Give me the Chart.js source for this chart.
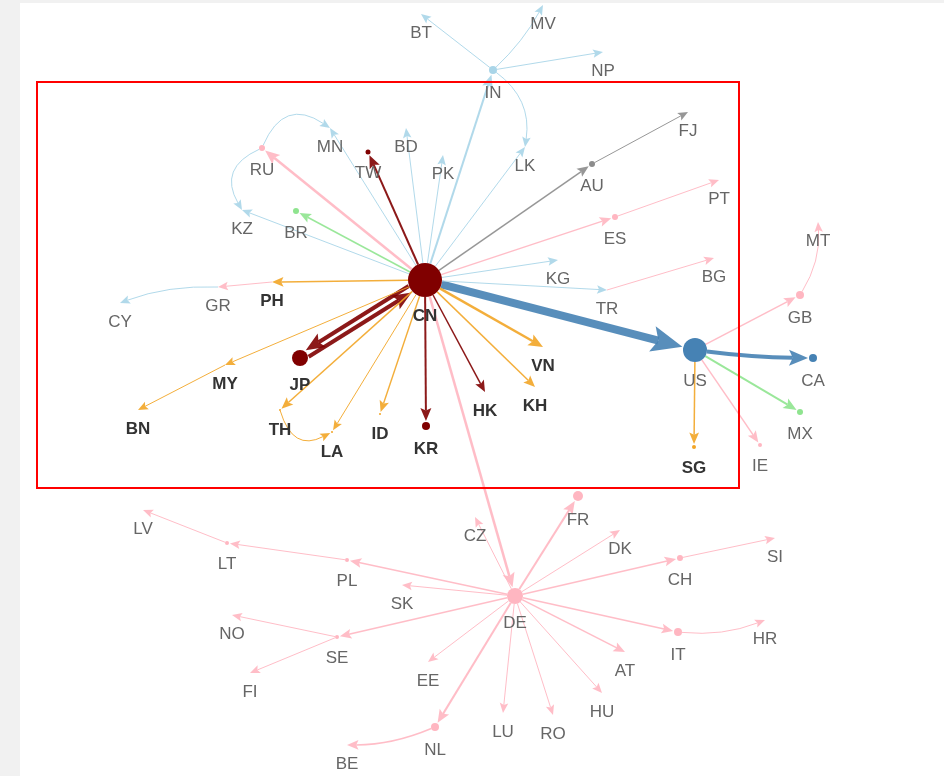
<!DOCTYPE html>
<html>
<head>
<meta charset="utf-8">
<script src="https://cdn.jsdelivr.net/npm/chart.js@4.4.1/dist/chart.umd.min.js"></script>
<style>
  body { margin: 0; background: #f1f1f1; }
  #wrap { width: 944px; height: 776px; }
</style>
</head>
<body>
<div id="wrap"><canvas id="mycanvas" width="944" height="776"></canvas></div>
<script>
// nodes (layout position)
var nodeNames = ['CN','US','DE','JP','IN','KR','TW','HK','VN','KH','ID','LA','TH','MY','BN','PH','GR','CY','BR','KZ','RU','MN','BD','PK','LK','BT','MV','NP','AU','FJ','ES','PT','KG','TR','BG','GB','MT','CA','MX','IE','SG','FR','CZ','DK','CH','SI','IT','HR','AT','HU','RO','LU','NL','BE','EE','SE','NO','FI','SK','PL','LT','LV'];
var nodeX = [425,695,515,300,493,426,368,485,543,535,380,332,280,225,138,272,218,120,296,242,262,330,406,443,525,421,543,603,592,688,615,719,558,607,714,800,818,813,800,760,694,578,475,620,680,775,678,765,625,602,553,503,435,347,428,337,232,250,402,347,227,143];
var nodeY = [280,350,596,358,70,426,152,392,347,387,414,432,410,365,410,282,287,303,211,210,148,128,128,155,147,14,5,52,164,112,217,180,260,290,258,295,222,358,412,445,447,496,517,530,558,538,632,620,652,693,715,713,727,745,662,637,615,673,585,560,543,510];
var nodeSize = [17,12,8,8,4,4,2.5,0,0,0,1,1,1,0,0,0,0,0,3,0,3,0,0,0,0,0,0,0,3,0,3,0,0,0,0,4,0,4,3,2,2,5,0,0,3,0,4,0,0,0,0,0,4,0,0,2,0,0,0,2,2,0];
var nodeRegion = ['EA','NA','EU','EA','SA','EA','EA','EA','SEA','SEA','SEA','SEA','SEA','SEA','SEA','SEA','EU','SA','AM','SA','EU','SA','SA','SA','SA','SA','SA','SA','OC','OC','EU','EU','SA','SA','EU','EU','EU','NA','AM','EU','SEA','EU','EU','EU','EU','EU','EU','EU','EU','EU','EU','EU','EU','EU','EU','EU','EU','EU','EU','EU','EU','EU'];
var boldNames = ['CN','JP','KR','HK','VN','KH','ID','LA','TH','MY','BN','PH','SG'];

// edges
var edgeFrom = ['CN','US','US','GB','US','US','US','CN','JP','CN','CN','CN','CN','CN','CN','CN','CN','TH','CN','MY','CN','PH','GR','CN','CN','CN','RU','RU','CN','CN','CN','CN','IN','IN','IN','IN','CN','CN','AU','CN','ES','CN','CN','TR','CN','DE','DE','DE','DE','CH','DE','IT','DE','DE','DE','DE','DE','NL','DE','DE','SE','SE','DE','DE','PL','LT'];
var edgeTo   = ['US','CA','GB','MT','MX','IE','SG','JP','CN','KR','TW','HK','VN','KH','ID','LA','TH','LA','MY','BN','PH','GR','CY','BR','KZ','RU','KZ','MN','MN','BD','PK','IN','BT','MV','NP','LK','LK','AU','FJ','ES','PT','KG','TR','BG','DE','FR','CZ','DK','CH','SI','IT','HR','AT','HU','RO','LU','NL','BE','EE','SE','NO','FI','SK','PL','LT','LV'];
var edgeWeight = [8,4,1.5,1,2,1.5,1.5,4,4,2,2,1.5,2.5,1.5,1.5,1,1.5,1,1,1,1.5,1,1,1.5,1,2.5,1,1,1,1,1,2,1,1,1,1,1,1.5,1,1.5,1,1,1,1,2.5,2,1,1,1.5,1,1.5,1,1.5,1,1,1,2,1.5,1,1.5,1,1,1,1.5,1,1];
var edgeBend = [0,0.03,0,0.16,0,0,0,0,0,0,0,0,0,0,0,0,0,0.6,0,0,0,0,0.1,0,0,0,0.55,-0.6,0,0,0,0,0,0.08,0,-0.3,0,0,0,0,0,0,0,0,0,0,0,0,0,0,0,0.12,0,0,0,0,0,-0.1,0,0,0,0,0,0,0,0];

var focusBox = [37, 82, 739, 488];

var regionColor = {
  EA: '#800000', NA: '#4682b4', EU: '#ffb6c1', SA: '#a9d5e8',
  SEA: '#f2a526', AM: '#8fe48f', OC: '#8c8c8c'
};

var idx = {};
nodeNames.forEach(function(n, i) { idx[n] = i; });

var frame = {
  id: 'frame',
  beforeDraw: function(chart) {
    var ctx = chart.ctx;
    ctx.save();
    ctx.fillStyle = '#f1f1f1';
    ctx.fillRect(0, 0, chart.width, chart.height);
    ctx.fillStyle = '#ffffff';
    ctx.fillRect(20, 3, chart.width - 20, chart.height - 3);
    ctx.restore();
  }
};

function arrowHead(ctx, tx, ty, ux, uy, len, half, color) {
  ctx.beginPath();
  ctx.moveTo(tx, ty);
  ctx.lineTo(tx - ux * len - uy * half, ty - uy * len + ux * half);
  ctx.lineTo(tx - ux * len * 0.8, ty - uy * len * 0.8);
  ctx.lineTo(tx - ux * len + uy * half, ty - uy * len - ux * half);
  ctx.closePath();
  ctx.fillStyle = color;
  ctx.fill();
}

var edgeLayer = {
  id: 'edgeLayer',
  beforeDatasetsDraw: function(chart) {
    var ctx = chart.ctx, xs = chart.scales.x, ys = chart.scales.y;
    ctx.save();
    ctx.lineCap = 'butt';
    for (var i = 0; i < edgeFrom.length; i++) {
      var a = idx[edgeFrom[i]], b = idx[edgeTo[i]];
      var x1 = xs.getPixelForValue(nodeX[a]), y1 = ys.getPixelForValue(nodeY[a]);
      var x2 = xs.getPixelForValue(nodeX[b]), y2 = ys.getPixelForValue(nodeY[b]);
      var w = edgeWeight[i];
      var dx = x2 - x1, dy = y2 - y1, len = Math.sqrt(dx * dx + dy * dy);
      var nx = -dy / len, ny = dx / len;
      // two-way pair: shift each side apart
      var twoWay = false;
      for (var j = 0; j < edgeFrom.length; j++) {
        if (edgeFrom[j] === edgeTo[i] && edgeTo[j] === edgeFrom[i]) twoWay = true;
      }
      if (twoWay) {
        var s = w / 2 + 1.5;
        x1 += nx * s; y1 += ny * s; x2 += nx * s; y2 += ny * s;
      }
      var cx = (x1 + x2) / 2 + nx * edgeBend[i] * len;
      var cy = (y1 + y2) / 2 + ny * edgeBend[i] * len;
      var r1 = nodeSize[a], r2 = nodeSize[b] + (nodeSize[b] > 0 ? 1 : 0);
      // start on node rim
      var sx = cx - x1, sy = cy - y1, sl = Math.sqrt(sx * sx + sy * sy);
      var px = x1 + sx / sl * r1, py = y1 + sy / sl * r1;
      // end tangent
      var ex = x2 - cx, ey = y2 - cy, el = Math.sqrt(ex * ex + ey * ey);
      var ux = ex / el, uy = ey / el;
      var tx = x2 - ux * r2, ty = y2 - uy * r2;
      var headLen = 7 + w * 3, headHalf = 3 + w * 1.25;
      var color = regionColor[nodeRegion[b]];
      ctx.globalAlpha = 0.9;
      ctx.strokeStyle = color;
      ctx.lineWidth = w;
      ctx.beginPath();
      ctx.moveTo(px, py);
      var bx = tx - ux * headLen * 0.8, by = ty - uy * headLen * 0.8;
      if (edgeBend[i] !== 0) ctx.quadraticCurveTo(cx, cy, bx, by);
      else ctx.lineTo(bx, by);
      ctx.stroke();
      arrowHead(ctx, tx, ty, ux, uy, headLen, headHalf, color);
    }
    ctx.restore();
  },
  afterDatasetsDraw: function(chart) {
    var ctx = chart.ctx, xs = chart.scales.x, ys = chart.scales.y;
    ctx.save();
    ctx.textAlign = 'center';
    ctx.textBaseline = 'middle';
    nodeNames.forEach(function(n, i) {
      var bold = boldNames.indexOf(n) >= 0;
      ctx.font = (bold ? 'bold ' : '') + '17px "Liberation Sans", Arial, sans-serif';
      ctx.fillStyle = bold ? '#333333' : '#666666';
      ctx.fillText(n, xs.getPixelForValue(nodeX[i]), ys.getPixelForValue(nodeY[i]) + nodeSize[i] + 19);
    });
    // highlighted area
    ctx.strokeStyle = '#ff0000';
    ctx.lineWidth = 2;
    var l = xs.getPixelForValue(focusBox[0]), t = ys.getPixelForValue(focusBox[1]);
    var r = xs.getPixelForValue(focusBox[2]), btm = ys.getPixelForValue(focusBox[3]);
    ctx.strokeRect(l, t, r - l, btm - t);
    ctx.restore();
  }
};

var points = nodeNames.map(function(n, i) { return { x: nodeX[i], y: nodeY[i] }; });

var ctx = document.getElementById('mycanvas');
var netChart = new Chart(ctx, {
  type: 'scatter',
  data: {
    datasets: [{
      label: 'nodes',
      data: points,
      pointRadius: nodeSize,
      pointHoverRadius: nodeSize,
      pointBorderWidth: 0,
      backgroundColor: nodeRegion.map(function(r) { return regionColor[r]; }),
      borderColor: nodeRegion.map(function(r) { return regionColor[r]; }),
      clip: false
    }]
  },
  options: {
    responsive: false,
    animation: false,
    layout: { padding: 0, autoPadding: false },
    plugins: { legend: { display: false }, tooltip: { enabled: false } },
    scales: {
      x: { type: 'linear', min: 0, max: 944, display: false },
      y: { type: 'linear', min: 0, max: 776, reverse: true, display: false }
    }
  },
  plugins: [frame, edgeLayer]
});
</script>
</body>
</html>
